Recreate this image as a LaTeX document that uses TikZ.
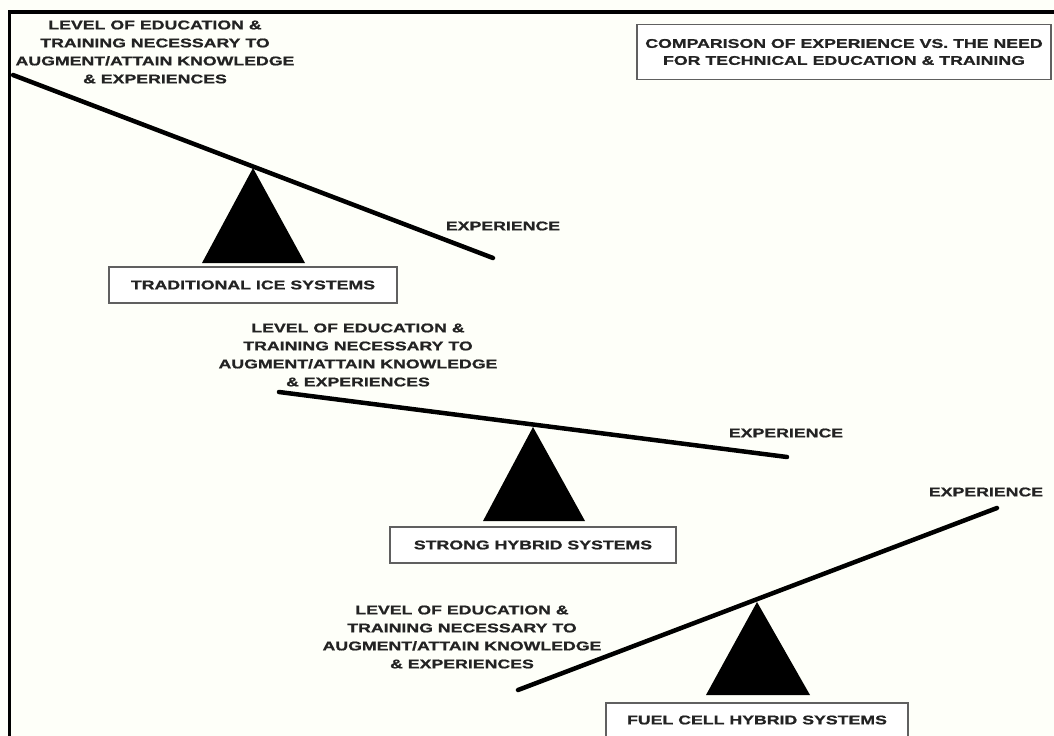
\documentclass[tikz,border=0pt]{standalone}
\usepackage{fontspec}
\newfontfamily\capsfont[FakeStretch=1.4,FakeBold=1]{Liberation Sans Bold}
\definecolor{paper}{RGB}{254,255,249}
\definecolor{ink}{RGB}{35,35,35}
\begin{document}
\begin{tikzpicture}[x=0.025cm,y=-0.025cm]
% Page and frame
\fill[paper] (0,0) rectangle (1054,736);
\useasboundingbox (0,0) rectangle (1054,736);
\draw[black, line width=2.8pt] (9.5,745) -- (9.5,12) -- (1060,12);

\tikzstyle{lvl} = [align=center, text=ink, inner sep=0pt, font=\capsfont\fontsize{9}{12.8}\selectfont]
\tikzstyle{exp} = [text=ink, inner sep=0pt, font=\capsfont\fontsize{9}{12.8}\selectfont]
\tikzstyle{sys} = [draw=gray!75!black, line width=1.4pt, fill=white, text=ink, minimum height=0.88cm, font=\capsfont\fontsize{9}{12.8}\selectfont]
\tikzstyle{beam} = [line width=3.2pt, line cap=round]
\tikzstyle{pivot} = [fill=black]

% Title
\node at (844,52) [sys, align=center, minimum width=10.35cm, minimum height=1.375cm, font=\capsfont\fontsize{9}{12.1}\selectfont] (title) {COMPARISON OF EXPERIENCE VS. THE NEED\\FOR TECHNICAL EDUCATION \& TRAINING};

% Traditional ICE systems
\coordinate (ice-l) at (13,75);
\coordinate (ice-r) at (493,258);
\draw[beam] (ice-l) -- (ice-r);
\fill[pivot] (253,168) -- (305,263) -- (202,263) -- cycle;
\node at (155,52) [lvl] (ice-lvl) {LEVEL OF EDUCATION \&\\TRAINING NECESSARY TO\\AUGMENT/ATTAIN KNOWLEDGE\\\& EXPERIENCES};
\node at (503,226) [exp] (ice-exp) {EXPERIENCE};
\node at (253,285) [sys, minimum width=7.18cm] (ice) {TRADITIONAL ICE SYSTEMS};

% Strong hybrid systems
\coordinate (shs-l) at (279,392);
\coordinate (shs-r) at (787,457);
\draw[beam] (shs-l) -- (shs-r);
\fill[pivot] (533,427) -- (585,521) -- (483,521) -- cycle;
\node at (358,355) [lvl] (shs-lvl) {LEVEL OF EDUCATION \&\\TRAINING NECESSARY TO\\AUGMENT/ATTAIN KNOWLEDGE\\\& EXPERIENCES};
\node at (786,433) [exp] (shs-exp) {EXPERIENCE};
\node at (533,545) [sys, minimum width=7.15cm] (shs) {STRONG HYBRID SYSTEMS};

% Fuel cell hybrid systems
\coordinate (fc-l) at (518,690);
\coordinate (fc-r) at (997,508);
\draw[beam] (fc-l) -- (fc-r);
\fill[pivot] (757,602) -- (810,695) -- (706,695) -- cycle;
\node at (462,637) [lvl] (fc-lvl) {LEVEL OF EDUCATION \&\\TRAINING NECESSARY TO\\AUGMENT/ATTAIN KNOWLEDGE\\\& EXPERIENCES};
\node at (986,492) [exp] (fc-exp) {EXPERIENCE};
\node at (757,720) [sys, minimum width=7.55cm, minimum height=0.85cm] (fc) {FUEL CELL HYBRID SYSTEMS};
\end{tikzpicture}
\end{document}
